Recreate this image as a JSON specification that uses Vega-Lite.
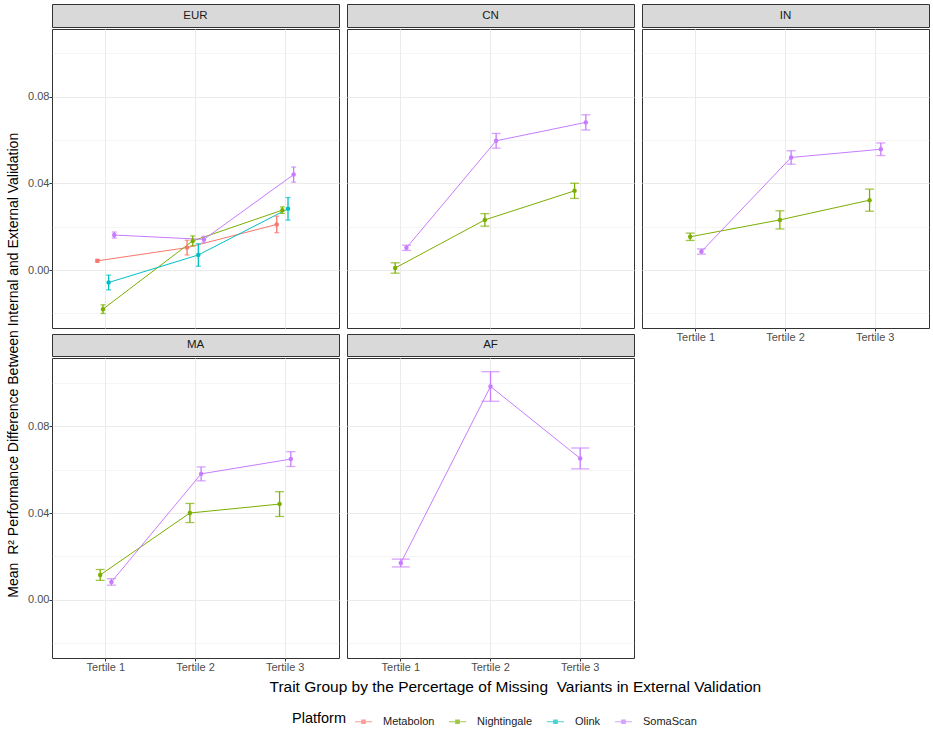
{
  "$schema": "https://vega.github.io/schema/vega-lite/v6.json",
  "background": "white",
  "padding": {"top": 3, "left": 7, "right": 0, "bottom": 4},
  "datasets": {
    "strips": [
      {"region": "EUR"}, {"region": "CN"}, {"region": "IN"}, {"region": "MA"}, {"region": "AF"}
    ],
    "res": [
      {"region": "EUR", "platform": "Metabolon", "tertile": "Tertile 1", "mean": 0.0043, "lo": 0.0037, "hi": 0.0049},
      {"region": "EUR", "platform": "Metabolon", "tertile": "Tertile 2", "mean": 0.0104, "lo": 0.0070, "hi": 0.0138},
      {"region": "EUR", "platform": "Metabolon", "tertile": "Tertile 3", "mean": 0.0211, "lo": 0.0173, "hi": 0.0249},
      {"region": "EUR", "platform": "Nightingale", "tertile": "Tertile 1", "mean": -0.0180, "lo": -0.0200, "hi": -0.0160},
      {"region": "EUR", "platform": "Nightingale", "tertile": "Tertile 2", "mean": 0.0135, "lo": 0.0112, "hi": 0.0158},
      {"region": "EUR", "platform": "Nightingale", "tertile": "Tertile 3", "mean": 0.0277, "lo": 0.0262, "hi": 0.0292},
      {"region": "EUR", "platform": "Olink", "tertile": "Tertile 1", "mean": -0.0057, "lo": -0.0091, "hi": -0.0023},
      {"region": "EUR", "platform": "Olink", "tertile": "Tertile 2", "mean": 0.0070, "lo": 0.0018, "hi": 0.0122},
      {"region": "EUR", "platform": "Olink", "tertile": "Tertile 3", "mean": 0.0283, "lo": 0.0231, "hi": 0.0335},
      {"region": "EUR", "platform": "SomaScan", "tertile": "Tertile 1", "mean": 0.0162, "lo": 0.0148, "hi": 0.0176},
      {"region": "EUR", "platform": "SomaScan", "tertile": "Tertile 2", "mean": 0.0142, "lo": 0.0128, "hi": 0.0156},
      {"region": "EUR", "platform": "SomaScan", "tertile": "Tertile 3", "mean": 0.0441, "lo": 0.0406, "hi": 0.0476},
      {"region": "CN", "platform": "Nightingale", "tertile": "Tertile 1", "mean": 0.0010, "lo": -0.0014, "hi": 0.0034},
      {"region": "CN", "platform": "Nightingale", "tertile": "Tertile 2", "mean": 0.0232, "lo": 0.0203, "hi": 0.0261},
      {"region": "CN", "platform": "Nightingale", "tertile": "Tertile 3", "mean": 0.0366, "lo": 0.0331, "hi": 0.0401},
      {"region": "CN", "platform": "SomaScan", "tertile": "Tertile 1", "mean": 0.0103, "lo": 0.0091, "hi": 0.0115},
      {"region": "CN", "platform": "SomaScan", "tertile": "Tertile 2", "mean": 0.0597, "lo": 0.0563, "hi": 0.0631},
      {"region": "CN", "platform": "SomaScan", "tertile": "Tertile 3", "mean": 0.0682, "lo": 0.0647, "hi": 0.0717},
      {"region": "IN", "platform": "Nightingale", "tertile": "Tertile 1", "mean": 0.0154, "lo": 0.0137, "hi": 0.0171},
      {"region": "IN", "platform": "Nightingale", "tertile": "Tertile 2", "mean": 0.0232, "lo": 0.0190, "hi": 0.0274},
      {"region": "IN", "platform": "Nightingale", "tertile": "Tertile 3", "mean": 0.0323, "lo": 0.0272, "hi": 0.0374},
      {"region": "IN", "platform": "SomaScan", "tertile": "Tertile 1", "mean": 0.0086, "lo": 0.0074, "hi": 0.0098},
      {"region": "IN", "platform": "SomaScan", "tertile": "Tertile 2", "mean": 0.0520, "lo": 0.0489, "hi": 0.0551},
      {"region": "IN", "platform": "SomaScan", "tertile": "Tertile 3", "mean": 0.0558, "lo": 0.0529, "hi": 0.0587},
      {"region": "MA", "platform": "Nightingale", "tertile": "Tertile 1", "mean": 0.0115, "lo": 0.0090, "hi": 0.0140},
      {"region": "MA", "platform": "Nightingale", "tertile": "Tertile 2", "mean": 0.0400, "lo": 0.0356, "hi": 0.0444},
      {"region": "MA", "platform": "Nightingale", "tertile": "Tertile 3", "mean": 0.0441, "lo": 0.0384, "hi": 0.0498},
      {"region": "MA", "platform": "SomaScan", "tertile": "Tertile 1", "mean": 0.0083, "lo": 0.0068, "hi": 0.0098},
      {"region": "MA", "platform": "SomaScan", "tertile": "Tertile 2", "mean": 0.0580, "lo": 0.0548, "hi": 0.0612},
      {"region": "MA", "platform": "SomaScan", "tertile": "Tertile 3", "mean": 0.0648, "lo": 0.0614, "hi": 0.0682},
      {"region": "AF", "platform": "SomaScan", "tertile": "Tertile 1", "mean": 0.0170, "lo": 0.0152, "hi": 0.0188},
      {"region": "AF", "platform": "SomaScan", "tertile": "Tertile 2", "mean": 0.0982, "lo": 0.0914, "hi": 0.1050},
      {"region": "AF", "platform": "SomaScan", "tertile": "Tertile 3", "mean": 0.0651, "lo": 0.0603, "hi": 0.0699}
    ]
  },
  "title": {
    "text": "Mean \u00a0R\u00b2 Performance Difference Between Internal and External Validation",
    "orient": "left",
    "anchor": "middle",
    "fontSize": 14,
    "fontWeight": "normal",
    "color": "black",
    "offset": 6
  },
  "vconcat": [
    {
      "title": {
        "text": "Trait Group by the Percertage of Missing \u00a0Variants in External Validation",
        "orient": "bottom",
        "anchor": "middle",
        "frame": "bounds",
        "fontSize": 15.5,
        "fontWeight": "normal",
        "color": "black",
        "offset": 7,
        "dx": 37
      },
      "spacing": 6,
      "resolve": {"scale": {"x": "independent", "y": "independent", "xOffset": "independent"}},
      "hconcat": [
        {
          "spacing": 4,
          "resolve": {"scale": {"x": "independent", "y": "independent", "xOffset": "independent"}},
          "vconcat": [
            {
              "spacing": 0,
              "vconcat": [
                {
                  "data": {"name": "strips"},
                  "transform": [{"filter": "datum.region === 'EUR'"}],
                  "width": 287, "height": 23,
                  "view": {"fill": "#D9D9D9", "stroke": "#333333"},
                  "mark": {"type": "text", "fontSize": 11.5, "color": "#1A1A1A"},
                  "encoding": {"text": {"field": "region"}}
                },
                {
                  "data": {"name": "res"},
                  "transform": [{"filter": "datum.region === 'EUR'"}],
                  "width": 287, "height": 299,
                  "encoding": {
                    "x": {"field": "tertile", "type": "nominal", "title": null,
                      "scale": {"domain": ["Tertile 1", "Tertile 2", "Tertile 3"], "paddingInner": 0, "paddingOuter": 0.1},
                      "axis": {"labels": false, "ticks": false, "grid": true, "bandPosition": 0.5}},
                    "xOffset": {"field": "platform", "scale": {"range": [33.6, 56.1]}},
                    "color": {"field": "platform", "type": "nominal", "title": "Platform",
                      "scale": {"domain": ["Metabolon", "Nightingale", "Olink", "SomaScan"], "range": ["#F8766D", "#7CAE00", "#00BFC4", "#C77CFF"]}}
                  },
                  "layer": [
                    {"mark": {"type": "line", "strokeWidth": 1},
                     "encoding": {"y": {"field": "mean", "type": "quantitative", "title": null,
                       "scale": {"domain": [-0.0267, 0.1113], "nice": false, "zero": false},
                       "axis": {"values": [-0.02, 0, 0.02, 0.04, 0.06, 0.08, 0.1], "format": ".2f",
                         "labelExpr": "round(datum.value * 100) % 4 === 0 ? datum.label : ''",
                         "tickOpacity": {"condition": {"test": "round(datum.value * 100) % 4 !== 0", "value": 0}, "value": 1},
                         "gridWidth": {"condition": {"test": "round(datum.value * 100) % 4 !== 0", "value": 0.5}, "value": 1}}}}},
                    {"mark": {"type": "rule", "strokeWidth": 1.3},
                     "encoding": {"y": {"field": "lo", "type": "quantitative", "title": null}, "y2": {"field": "hi"}}},
                    {"mark": {"type": "tick", "size": 5, "thickness": 1.3},
                     "encoding": {"y": {"field": "lo", "type": "quantitative", "title": null}}},
                    {"mark": {"type": "tick", "size": 5, "thickness": 1.3},
                     "encoding": {"y": {"field": "hi", "type": "quantitative", "title": null}}},
                    {"mark": {"type": "point", "filled": true, "size": 20, "opacity": 1},
                     "encoding": {"y": {"field": "mean", "type": "quantitative", "title": null}}}
                  ]
                }
              ]
            },
            {
              "spacing": 0,
              "vconcat": [
                {
                  "data": {"name": "strips"},
                  "transform": [{"filter": "datum.region === 'MA'"}],
                  "width": 287, "height": 22,
                  "view": {"fill": "#D9D9D9", "stroke": "#333333"},
                  "mark": {"type": "text", "fontSize": 11.5, "color": "#1A1A1A"},
                  "encoding": {"text": {"field": "region"}}
                },
                {
                  "data": {"name": "res"},
                  "transform": [{"filter": "datum.region === 'MA'"}],
                  "width": 287, "height": 300,
                  "encoding": {
                    "x": {"field": "tertile", "type": "nominal", "title": null,
                      "scale": {"domain": ["Tertile 1", "Tertile 2", "Tertile 3"], "paddingInner": 0, "paddingOuter": 0.1},
                      "axis": {"labelAngle": 0, "grid": true, "bandPosition": 0.5}},
                    "xOffset": {"field": "platform", "scale": {"range": [33.6, 56.1]}},
                    "color": {"field": "platform", "type": "nominal", "title": "Platform",
                      "scale": {"domain": ["Metabolon", "Nightingale", "Olink", "SomaScan"], "range": ["#F8766D", "#7CAE00", "#00BFC4", "#C77CFF"]}}
                  },
                  "layer": [
                    {"mark": {"type": "line", "strokeWidth": 1},
                     "encoding": {"y": {"field": "mean", "type": "quantitative", "title": null,
                       "scale": {"domain": [-0.0267, 0.1113], "nice": false, "zero": false},
                       "axis": {"values": [-0.02, 0, 0.02, 0.04, 0.06, 0.08, 0.1], "format": ".2f",
                         "labelExpr": "round(datum.value * 100) % 4 === 0 ? datum.label : ''",
                         "tickOpacity": {"condition": {"test": "round(datum.value * 100) % 4 !== 0", "value": 0}, "value": 1},
                         "gridWidth": {"condition": {"test": "round(datum.value * 100) % 4 !== 0", "value": 0.5}, "value": 1}}}}},
                    {"mark": {"type": "rule", "strokeWidth": 1.3},
                     "encoding": {"y": {"field": "lo", "type": "quantitative", "title": null}, "y2": {"field": "hi"}}},
                    {"mark": {"type": "tick", "size": 9, "thickness": 1.3},
                     "encoding": {"y": {"field": "lo", "type": "quantitative", "title": null}}},
                    {"mark": {"type": "tick", "size": 9, "thickness": 1.3},
                     "encoding": {"y": {"field": "hi", "type": "quantitative", "title": null}}},
                    {"mark": {"type": "point", "filled": true, "size": 20, "opacity": 1},
                     "encoding": {"y": {"field": "mean", "type": "quantitative", "title": null}}}
                  ]
                }
              ]
            }
          ]
        },
        {
          "spacing": 4,
          "resolve": {"scale": {"x": "independent", "y": "independent", "xOffset": "independent"}},
          "vconcat": [
            {
              "spacing": 0,
              "vconcat": [
                {
                  "data": {"name": "strips"},
                  "transform": [{"filter": "datum.region === 'CN'"}],
                  "width": 287, "height": 23,
                  "view": {"fill": "#D9D9D9", "stroke": "#333333"},
                  "mark": {"type": "text", "fontSize": 11.5, "color": "#1A1A1A"},
                  "encoding": {"text": {"field": "region"}}
                },
                {
                  "data": {"name": "res"},
                  "transform": [{"filter": "datum.region === 'CN'"}],
                  "width": 287, "height": 299,
                  "encoding": {
                    "x": {"field": "tertile", "type": "nominal", "title": null,
                      "scale": {"domain": ["Tertile 1", "Tertile 2", "Tertile 3"], "paddingInner": 0, "paddingOuter": 0.1},
                      "axis": {"labels": false, "ticks": false, "grid": true, "bandPosition": 0.5}},
                    "xOffset": {"field": "platform", "scale": {"range": [33.6, 56.1]}},
                    "color": {"field": "platform", "type": "nominal", "title": "Platform",
                      "scale": {"domain": ["Metabolon", "Nightingale", "Olink", "SomaScan"], "range": ["#F8766D", "#7CAE00", "#00BFC4", "#C77CFF"]}}
                  },
                  "layer": [
                    {"mark": {"type": "line", "strokeWidth": 1},
                     "encoding": {"y": {"field": "mean", "type": "quantitative", "title": null,
                       "scale": {"domain": [-0.0267, 0.1113], "nice": false, "zero": false},
                       "axis": {"values": [-0.02, 0, 0.02, 0.04, 0.06, 0.08, 0.1], "labels": false, "ticks": false,
                         "gridWidth": {"condition": {"test": "round(datum.value * 100) % 4 !== 0", "value": 0.5}, "value": 1}}}}},
                    {"mark": {"type": "rule", "strokeWidth": 1.3},
                     "encoding": {"y": {"field": "lo", "type": "quantitative", "title": null}, "y2": {"field": "hi"}}},
                    {"mark": {"type": "tick", "size": 9, "thickness": 1.3},
                     "encoding": {"y": {"field": "lo", "type": "quantitative", "title": null}}},
                    {"mark": {"type": "tick", "size": 9, "thickness": 1.3},
                     "encoding": {"y": {"field": "hi", "type": "quantitative", "title": null}}},
                    {"mark": {"type": "point", "filled": true, "size": 20, "opacity": 1},
                     "encoding": {"y": {"field": "mean", "type": "quantitative", "title": null}}}
                  ]
                }
              ]
            },
            {
              "spacing": 0,
              "vconcat": [
                {
                  "data": {"name": "strips"},
                  "transform": [{"filter": "datum.region === 'AF'"}],
                  "width": 287, "height": 22,
                  "view": {"fill": "#D9D9D9", "stroke": "#333333"},
                  "mark": {"type": "text", "fontSize": 11.5, "color": "#1A1A1A"},
                  "encoding": {"text": {"field": "region"}}
                },
                {
                  "data": {"name": "res"},
                  "transform": [{"filter": "datum.region === 'AF'"}],
                  "width": 287, "height": 300,
                  "encoding": {
                    "x": {"field": "tertile", "type": "nominal", "title": null,
                      "scale": {"domain": ["Tertile 1", "Tertile 2", "Tertile 3"], "paddingInner": 0, "paddingOuter": 0.1},
                      "axis": {"labelAngle": 0, "grid": true, "bandPosition": 0.5}},
                    "xOffset": {"field": "platform", "scale": {"range": [33.6, 56.1]}},
                    "color": {"field": "platform", "type": "nominal", "title": "Platform",
                      "scale": {"domain": ["Metabolon", "Nightingale", "Olink", "SomaScan"], "range": ["#F8766D", "#7CAE00", "#00BFC4", "#C77CFF"]}}
                  },
                  "layer": [
                    {"mark": {"type": "line", "strokeWidth": 1},
                     "encoding": {"y": {"field": "mean", "type": "quantitative", "title": null,
                       "scale": {"domain": [-0.0267, 0.1113], "nice": false, "zero": false},
                       "axis": {"values": [-0.02, 0, 0.02, 0.04, 0.06, 0.08, 0.1], "labels": false, "ticks": false,
                         "gridWidth": {"condition": {"test": "round(datum.value * 100) % 4 !== 0", "value": 0.5}, "value": 1}}}}},
                    {"mark": {"type": "rule", "strokeWidth": 1.3},
                     "encoding": {"y": {"field": "lo", "type": "quantitative", "title": null}, "y2": {"field": "hi"}}},
                    {"mark": {"type": "tick", "size": 18, "thickness": 1.3},
                     "encoding": {"y": {"field": "lo", "type": "quantitative", "title": null}}},
                    {"mark": {"type": "tick", "size": 18, "thickness": 1.3},
                     "encoding": {"y": {"field": "hi", "type": "quantitative", "title": null}}},
                    {"mark": {"type": "point", "filled": true, "size": 20, "opacity": 1},
                     "encoding": {"y": {"field": "mean", "type": "quantitative", "title": null}}}
                  ]
                }
              ]
            }
          ]
        },
        {
          "spacing": 0,
          "resolve": {"scale": {"x": "independent", "y": "independent", "xOffset": "independent"}},
          "vconcat": [
            {
              "data": {"name": "strips"},
              "transform": [{"filter": "datum.region === 'IN'"}],
              "width": 287, "height": 23,
              "view": {"fill": "#D9D9D9", "stroke": "#333333"},
              "mark": {"type": "text", "fontSize": 11.5, "color": "#1A1A1A"},
              "encoding": {"text": {"field": "region"}}
            },
            {
              "data": {"name": "res"},
              "transform": [{"filter": "datum.region === 'IN'"}],
              "width": 287, "height": 299,
              "encoding": {
                "x": {"field": "tertile", "type": "nominal", "title": null,
                  "scale": {"domain": ["Tertile 1", "Tertile 2", "Tertile 3"], "paddingInner": 0, "paddingOuter": 0.1},
                  "axis": {"labelAngle": 0, "grid": true, "bandPosition": 0.5}},
                "xOffset": {"field": "platform", "scale": {"range": [33.6, 56.1]}},
                "color": {"field": "platform", "type": "nominal", "title": "Platform",
                  "scale": {"domain": ["Metabolon", "Nightingale", "Olink", "SomaScan"], "range": ["#F8766D", "#7CAE00", "#00BFC4", "#C77CFF"]}}
              },
              "layer": [
                {"mark": {"type": "line", "strokeWidth": 1},
                 "encoding": {"y": {"field": "mean", "type": "quantitative", "title": null,
                   "scale": {"domain": [-0.0267, 0.1113], "nice": false, "zero": false},
                   "axis": {"values": [-0.02, 0, 0.02, 0.04, 0.06, 0.08, 0.1], "labels": false, "ticks": false,
                     "gridWidth": {"condition": {"test": "round(datum.value * 100) % 4 !== 0", "value": 0.5}, "value": 1}}}}},
                {"mark": {"type": "rule", "strokeWidth": 1.3},
                 "encoding": {"y": {"field": "lo", "type": "quantitative", "title": null}, "y2": {"field": "hi"}}},
                {"mark": {"type": "tick", "size": 9, "thickness": 1.3},
                 "encoding": {"y": {"field": "lo", "type": "quantitative", "title": null}}},
                {"mark": {"type": "tick", "size": 9, "thickness": 1.3},
                 "encoding": {"y": {"field": "hi", "type": "quantitative", "title": null}}},
                {"mark": {"type": "point", "filled": true, "size": 20, "opacity": 1},
                 "encoding": {"y": {"field": "mean", "type": "quantitative", "title": null}}}
              ]
            }
          ]
        }
      ]
    }
  ],
  "config": {
    "font": "Liberation Sans",
    "view": {"stroke": "#333333", "strokeWidth": 1},
    "axis": {
      "gridColor": "#EBEBEB",
      "labelColor": "#4D4D4D",
      "labelFontSize": 11,
      "tickColor": "#333333",
      "tickSize": 3,
      "labelPadding": 0,
      "domain": false
    },
    "legend": {
      "orient": "none",
      "legendX": 240,
      "legendY": 708,
      "direction": "horizontal",
      "titleOrient": "left",
      "titleFontSize": 14.5,
      "titleFontWeight": "normal",
      "titleColor": "black",
      "titlePadding": 8,
      "labelFontSize": 11,
      "labelColor": "#1A1A1A",
      "labelOffset": 10,
      "symbolType": "M-1,0H1M-0.2,-0.2H0.2V0.2H-0.2Z",
      "symbolSize": 289,
      "symbolStrokeWidth": 1.2,
      "columnPadding": 11
    }
  }
}
